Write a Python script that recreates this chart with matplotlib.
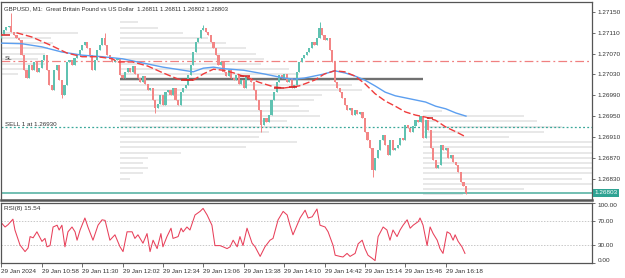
import matplotlib
matplotlib.use("Agg")
import matplotlib.pyplot as plt
import numpy as np

# ---------------- data ----------------
first_open = 1.27100
closes = [
    1.27108, 1.27115, 1.27121, 1.27123, 1.27112, 1.27106, 1.27100, 1.27096, 1.27067, 1.27038,
    1.27023, 1.27048, 1.27038, 1.27054, 1.27035, 1.27042, 1.27058, 1.27067, 1.27038, 1.27010,
    1.27000, 1.27038, 1.27048, 1.27019, 1.26991, 1.27010, 1.27054, 1.27058, 1.27048, 1.27062,
    1.27067, 1.27077, 1.27087, 1.27092, 1.27081, 1.27067, 1.27038, 1.27058, 1.27077, 1.27087,
    1.27100, 1.27087, 1.27067, 1.27062, 1.27054, 1.27058, 1.27062, 1.27029, 1.27023, 1.27035,
    1.27042, 1.27035, 1.27046, 1.27031, 1.27023, 1.27015, 1.27027, 1.27012, 1.27000, 1.27004,
    1.26981, 1.26966, 1.26973, 1.26991, 1.26971, 1.26996, 1.27000, 1.26991, 1.27004, 1.26981,
    1.26971, 1.26996, 1.27004, 1.27010, 1.27029, 1.27048, 1.27073, 1.27092, 1.27100, 1.27115,
    1.27119, 1.27112, 1.27106, 1.27092, 1.27081, 1.27067, 1.27048, 1.27054, 1.27035, 1.27027,
    1.27038, 1.27023, 1.27019, 1.27029, 1.27012, 1.27019, 1.27004, 1.27027, 1.27023, 1.27015,
    1.27000, 1.26981, 1.26962, 1.26933, 1.26946, 1.26939, 1.26952, 1.26981, 1.26996, 1.27015,
    1.27029, 1.27023, 1.27031, 1.27015, 1.27023, 1.27004, 1.27010, 1.27035, 1.27054, 1.27062,
    1.27067, 1.27073, 1.27081, 1.27092, 1.27087, 1.27100, 1.27119, 1.27106, 1.27096, 1.27100,
    1.27077, 1.27054, 1.27015, 1.27004, 1.26996, 1.26985, 1.26971, 1.26962, 1.26966, 1.26952,
    1.26962, 1.26954, 1.26958, 1.26946, 1.26920, 1.26904, 1.26889, 1.26847, 1.26870, 1.26885,
    1.26904, 1.26914, 1.26895, 1.26875, 1.26904, 1.26885, 1.26889, 1.26895, 1.26908, 1.26904,
    1.26933, 1.26927, 1.26920, 1.26931, 1.26942, 1.26939, 1.26950, 1.26908, 1.26942, 1.26923,
    1.26889, 1.26866, 1.26850, 1.26856, 1.26895, 1.26885, 1.26889, 1.26870, 1.26875, 1.26862,
    1.26856, 1.26843, 1.26824, 1.26816, 1.26803,
]
wick_highs = {4: 1.27148, 41: 1.27110, 80: 1.27125, 126: 1.27131}
wick_lows = {24: 1.26985, 61: 1.26956, 103: 1.26920, 147: 1.26833, 184: 1.26800}

blue_idx = [0, 8, 16, 24, 32, 40, 48, 56, 64, 72, 76, 80, 84, 88, 96, 104, 112, 116, 120, 128,
            132, 136, 140, 144, 148, 152, 156, 160, 164, 168, 172, 176, 180, 184]
blue_val = [1.27090, 1.27089, 1.27083, 1.27073, 1.27067, 1.27064, 1.27060, 1.27052, 1.27044, 1.27038,
            1.27035, 1.27042, 1.27044, 1.27041, 1.27038, 1.27031, 1.27023, 1.27021, 1.27023, 1.27031,
            1.27037, 1.27033, 1.27027, 1.27019, 1.27008, 1.26996, 1.26989, 1.26985, 1.26981, 1.26977,
            1.26969, 1.26964, 1.26956, 1.26950]
red_idx = [6, 12, 20, 26, 32, 38, 44, 46, 52, 58, 64, 70, 76, 80, 84, 88, 92, 98, 102, 108,
           112, 118, 124, 128, 132, 136, 140, 144, 148, 152, 156, 160, 164, 168, 172, 176, 180, 184]
red_val = [1.27110, 1.27102, 1.27085, 1.27071, 1.27064, 1.27064, 1.27060, 1.27054, 1.27054, 1.27046,
           1.27033, 1.27021, 1.27019, 1.27031, 1.27040, 1.27038, 1.27033, 1.27023, 1.27015, 1.27006,
           1.27004, 1.27008, 1.27019, 1.27031, 1.27037, 1.27035, 1.27027, 1.27012, 1.26993, 1.26979,
           1.26969, 1.26958, 1.26952, 1.26948, 1.26942, 1.26929, 1.26920, 1.26910]

marker_start = [0, 71, 94.5, 108, 114, 168.5]
marker_end = [3.5, 76, 98.5, 112, 117, 171]
marker_price = [1.27106, 1.27019, 1.27027, 1.27004, 1.27006, 1.26946]

# volume profiles (price level -> length in bars)
prof1_start = -0.5
prof1_levels = [1.2711, 1.2710, 1.2709, 1.2708, 1.2707, 1.2706, 1.2705, 1.2704, 1.2703]
prof1_len = [31, 20, 21, 19, 18, 15, 18, 12, 7]
prof2_start = 47
prof2_levels = [1.2713, 1.2712, 1.2711, 1.2710, 1.2709, 1.2708, 1.2707, 1.2706, 1.2705, 1.2704,
                1.2703, 1.2702, 1.2701, 1.2700, 1.2699, 1.2698, 1.2697, 1.2696, 1.2695, 1.2694,
                1.2693, 1.2692, 1.2691, 1.2690, 1.2689, 1.2688, 1.2687, 1.2686, 1.2685, 1.2684, 1.2683]
prof2_len = [7, 15, 25, 35, 42, 50, 54, 57, 56, 67, 71, 83, 92, 96, 80, 77, 71, 75, 79, 66,
             68, 59, 55, 70, 50, 24, 11, 9, 11, 9, 4]
prof3_start = 167
prof3_levels = [1.2696, 1.2695, 1.2694, 1.2693, 1.2692, 1.2691, 1.2690, 1.2689, 1.2688, 1.2687,
                1.2686, 1.2685, 1.2684, 1.2683, 1.2682, 1.2681, 1.2680]
prof3_len = [7.5, 40, 45, 55, 48, 34, 78, 78, 78, 78, 78, 78, 78, 63, 70, 40, 16]

level_start, level_end, level_price = 47, 167, 1.27021
sl_price = 1.27056
sell_price = 1.26930
bid_price = 1.26803

price_ticks = [1.27150, 1.27110, 1.27070, 1.27030, 1.26990, 1.26950, 1.26910, 1.26870, 1.26830]

rsi_idx = [0, 1.5, 2.7, 4.6, 5.4, 7.4, 9.4, 10.6, 11.4, 12.6,
           14.1, 16.1, 17.3, 18.1, 19.3, 20.5, 22.1, 22.9, 24.0, 25.2,
           26.4, 28.0, 29.2, 30.0, 31.2, 33.1, 34.3, 36.3, 38.3, 39.9,
           41.1, 43.0, 45.0, 47.0, 48.2, 49.8, 51.8, 52.9, 54.1, 56.1,
           57.7, 58.9, 60.1, 61.7, 63.2, 64.0, 65.6, 67.2, 68.0, 70.0,
           71.2, 72.0, 73.5, 74.7, 76.7, 78.7, 79.9, 81.5, 83.4, 84.6,
           86.6, 87.8, 89.4, 90.6, 91.8, 93.4, 94.5, 95.7, 97.3, 99.3,
           100.5, 102.5, 104.4, 106.4, 107.6, 109.6, 111.6, 113.2, 114.3, 115.5,
           117.1, 118.3, 120.3, 121.5, 123.1, 125.0, 126.2, 128.2, 129.4, 131.4,
           132.2, 134.1, 135.3, 136.9, 138.1, 140.1, 141.3, 142.9, 144.0, 145.2,
           146.8, 148.0, 149.2, 151.2, 152.7, 153.9, 155.1, 156.7, 157.9, 159.1,
           160.7, 161.9, 163.1, 165.1, 165.8, 167.0, 168.6, 169.8, 171.0, 172.6,
           173.7, 174.9, 176.5, 177.7, 178.9, 179.7, 180.9, 182.4, 183.6]
rsi_val = [67, 60, 64, 73, 55, 30, 19, 25, 44, 42,
           52, 36, 41, 27, 29, 60, 63, 55, 63, 27,
           52, 60, 52, 38, 55, 75, 60, 38, 63, 72,
           71, 38, 47, 27, 19, 52, 52, 41, 47, 33,
           49, 19, 38, 24, 49, 27, 44, 58, 41, 44,
           58, 52, 60, 55, 80, 86, 91, 80, 63, 29,
           29, 27, 24, 27, 38, 27, 44, 29, 58, 33,
           27, 11, 27, 38, 41, 72, 86, 80, 63, 47,
           63, 75, 88, 75, 77, 90, 63, 60, 52, 29,
           13, 11, 10, 16, 11, 16, 32, 38, 24, 13,
           8, 4, 44, 60, 55, 38, 55, 44, 55, 63,
           72, 58, 63, 69, 75, 63, 29, 60, 49, 38,
           24, 16, 52, 49, 38, 47, 36, 27, 16]

time_tick_idx = [0, 16, 32, 48, 64, 80, 96, 112, 128, 144, 160, 176]
time_tick_lbl = ["29 Jan 2024", "29 Jan 10:58", "29 Jan 11:30", "29 Jan 12:02", "29 Jan 12:34",
                 "29 Jan 13:06", "29 Jan 13:38", "29 Jan 14:10", "29 Jan 14:42", "29 Jan 15:14",
                 "29 Jan 15:46", "29 Jan 16:18"]

title = "GBPUSD, M1:  Great Britain Pound vs US Dollar  1.26811 1.26811 1.26802 1.26803"
rsi_label = "RSI(8) 15.54"

# ---------------- style ----------------
FONT = "Liberation Sans"
TXT = "#333333"
BULL = "#5fc2b1"
BEAR = "#f38686"
FRAME = "#555555"
W, H = 625, 278

fig = plt.figure(figsize=(W / 100, H / 100), dpi=100)
fig.patch.set_facecolor("white")
ax = fig.add_axes([1 / W, 1 - 200 / H, 591 / W, 198 / H])
rax = fig.add_axes([1 / W, 1 - 263 / H, 591 / W, 60 / H])

XL = (-0.12, 233.9)

# ---------------- main panel ----------------
x = np.arange(len(closes))
closes_a = np.array(closes)
opens = np.concatenate([[first_open], closes_a[:-1]])
bottoms = np.minimum(opens, closes_a)
heights = np.maximum(np.abs(closes_a - opens), 0.00002)
cols = [BULL if c >= o else BEAR for o, c in zip(opens, closes_a)]

for start, levels, lens in [(prof1_start, prof1_levels, prof1_len),
                            (prof2_start, prof2_levels, prof2_len),
                            (prof3_start, prof3_levels, prof3_len)]:
    ax.hlines(levels, start, start + np.array(lens), color="#e2e2e2", lw=1.1, zorder=1)

ax.axhline(sl_price, color="#f08080", lw=0.9, dashes=(7, 2.5, 1.5, 2.5), zorder=2)
ax.axhline(sell_price, color="#3aa89a", lw=0.9, dashes=(1.5, 1.8), zorder=2)
ax.axhline(bid_price, color="#5ab4a6", lw=1.2, zorder=2)
ax.hlines(level_price, level_start, level_end, color="#707070", lw=1.7, zorder=2)

for i in range(len(closes)):
    hi = wick_highs.get(i, max(opens[i], closes_a[i]))
    lo = wick_lows.get(i, min(opens[i], closes_a[i]))
    if hi > lo:
        ax.vlines(i, lo, hi, color=cols[i], lw=0.7, zorder=3)
ax.bar(x, heights, bottom=bottoms, width=0.85, color=cols, linewidth=0, zorder=3)

ax.plot(blue_idx, blue_val, color="#5c9ff0", lw=1.0, zorder=4)
ax.plot(red_idx, red_val, color="#f03c3c", lw=1.0, dashes=(5, 2), zorder=4)
ax.hlines(marker_price, marker_start, marker_end, color="#d42020", lw=1.1, zorder=5)

ax.set_xlim(*XL)
ax.set_ylim(1.26789, 1.27169)
ax.set_xticks([])
ax.yaxis.tick_right()
ax.set_yticks(price_ticks)
ax.set_yticklabels([f"{p:.5f}" for p in price_ticks], fontsize=4.6, family=FONT, color=TXT)
ax.tick_params(axis="y", length=2.5, width=0.6, color=FRAME, pad=1.5)
for s in ax.spines.values():
    s.set_color(FRAME)
    s.set_linewidth(0.9)
ax.spines["bottom"].set_linewidth(1.8)

ax.text(1.004, bid_price, f"{bid_price:.5f}", transform=ax.get_yaxis_transform(),
        fontsize=4.6, family=FONT, color="white", va="center", ha="left",
        bbox=dict(boxstyle="square,pad=0.25", fc="#2fa393", ec="none"), zorder=10, clip_on=False)

ax.text(3 / 591, 1 - 4 / 198, title, transform=ax.transAxes, fontsize=4.3, family=FONT,
        color=TXT, va="top", ha="left")
ax.text(4 / 591, sl_price, "SL", transform=ax.get_yaxis_transform(), fontsize=4.5, family=FONT,
        color=TXT, va="bottom", ha="left")
ax.text(4 / 591, sell_price, "SELL 1 at 1.26930", transform=ax.get_yaxis_transform(),
        fontsize=4.5, family=FONT, color=TXT, va="bottom", ha="left")

# ---------------- RSI panel ----------------
rax.axhline(70, color="#c8c8c8", lw=0.7, dashes=(1.5, 1.5))
rax.axhline(30, color="#c8c8c8", lw=0.7, dashes=(1.5, 1.5))
rax.plot(rsi_idx, rsi_val, color="#e8405a", lw=0.75)
rax.set_xlim(*XL)
rax.set_ylim(0, 100)
rax.yaxis.tick_right()
rax.set_yticks([0, 30, 70, 100])
lbls = rax.set_yticklabels(["0.00", "30.00", "70.00", "100.00"], fontsize=4.6, family=FONT, color=TXT)
lbls[0].set_va("bottom")
lbls[3].set_va("top")
rax.tick_params(axis="y", length=2.5, width=0.6, color=FRAME, pad=1.5)
rax.set_xticks(time_tick_idx)
rax.set_xticklabels(time_tick_lbl, fontsize=4.6, family=FONT, color=TXT, ha="left")
rax.tick_params(axis="x", length=3, width=0.6, color=FRAME, pad=1.5)
for s in rax.spines.values():
    s.set_color(FRAME)
    s.set_linewidth(0.9)
rax.text(3 / 591, 1 - 3 / 60, rsi_label, transform=rax.transAxes, fontsize=4.6,
         family=FONT, color=TXT, va="top", ha="left")

fig.savefig("out.png", dpi=100)
